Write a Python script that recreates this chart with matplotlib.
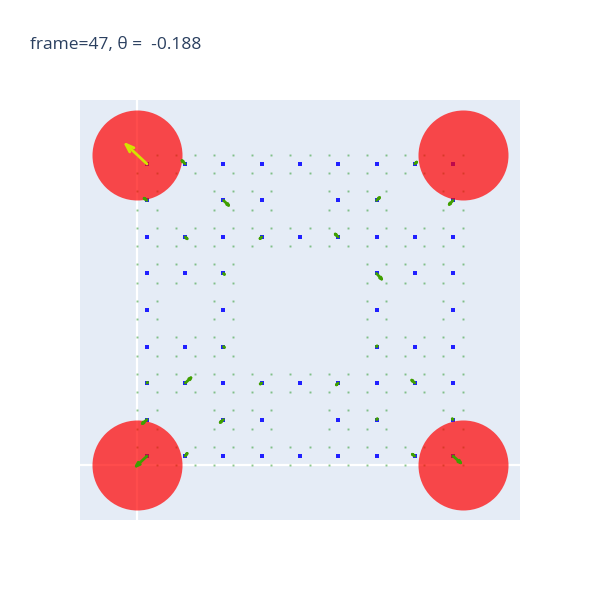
import numpy as np
import matplotlib.pyplot as plt

# Tapete de Sierpinski 9x9 (linhas de cima para baixo)
carpet = [
    "111111111",
    "101101101",
    "111111111",
    "111000111",
    "101000101",
    "111000111",
    "111111111",
    "101101101",
    "111111111",
]

# Posicoes dos circulos vermelhos (cantos)
corner_x = [0, 17, 0, 17]
corner_y = [0, 0, 17, 17]

# Setas (origem, componentes)
arrow_x = [0.5, 2.5, 14.5, 0.5, 4.5, 12.5, 16.5, 2.5, 6.5, 10.5, 4.5, 12.5, 4.5,
           12.5, 0.5, 2.5, 6.5, 10.5, 14.5, 0.5, 4.5, 12.5, 16.5, 0.5, 2.5, 14.5, 16.5]
arrow_y = [16.5, 16.5, 16.5, 14.5, 14.5, 14.5, 14.5, 12.5, 12.5, 12.5, 10.5, 10.5, 6.5,
           6.5, 4.5, 4.5, 4.5, 4.5, 4.5, 2.5, 2.5, 2.5, 2.5, 0.5, 0.5, 0.5, 0.5]
arrow_u = [-1.1, -0.17, 0.1, -0.15, 0.27, 0.16, -0.2, 0.1, -0.09, -0.16, 0.05, 0.27, 0.05,
           0.03, 0.03, 0.3, -0.08, -0.1, -0.16, -0.24, -0.17, 0.04, -0.04, -0.56, 0.1, -0.13, 0.4]
arrow_v = [1.07, 0.18, 0.1, 0.12, -0.27, 0.16, -0.22, -0.1, -0.09, 0.16, -0.05, -0.31, -0.05,
           0.03, 0.03, 0.29, -0.05, -0.1, 0.16, -0.22, -0.16, 0.04, 0.04, -0.55, 0.15, 0.1, -0.37]
arrow_c = ['#d4e200'] + ['#3f9f00'] * 26

title = "frame=47, θ =  -0.188"

# Pontos: centros (azul) e cantos (verde) de cada quadrado presente
cx, cy, sx, sy = [], [], [], []
for j, row in enumerate(carpet):
    for i, ch in enumerate(row):
        if ch == "1":
            cx.append(2 * i + 0.5)
            cy.append(16.5 - 2 * j)
            for di in (0, 1):
                for dj in (0, 1):
                    sx.append(2 * i + di)
                    sy.append(16 - 2 * j + dj)

fig = plt.figure(figsize=(6, 6), dpi=100)
ax = fig.add_axes([80 / 600, 80 / 600, 440 / 600, 420 / 600])
ax.set_facecolor('#E5ECF6')
ax.set_xlim(-3, 20)
ax.set_ylim(-3, 20)
ax.set_xticks([])
ax.set_yticks([])
for s in ax.spines.values():
    s.set_visible(False)

# linhas de zero
ax.axvline(0, color='white', lw=1.6, zorder=0.5)
ax.axhline(0, color='white', lw=1.6, zorder=0.5)

ax.plot(sx, sy, 's', ms=1.4, mew=0, color='#2e9a2e', alpha=0.55, zorder=1)
ax.plot(cx, cy, 's', ms=2.5, mew=0, color='#2020ff', zorder=2)

ax.scatter(corner_x, corner_y, s=4200, color='red', alpha=0.7, linewidths=0, zorder=3)

# setas estilo quiver com duas farpas
for x, y, u, v, c in zip(arrow_x, arrow_y, arrow_u, arrow_v, arrow_c):
    tx, ty = x + u, y + v
    ang = np.arctan2(v, u)
    L = 0.3 * np.hypot(u, v)
    b1 = (tx - L * np.cos(ang + np.pi / 9), ty - L * np.sin(ang + np.pi / 9))
    b2 = (tx - L * np.cos(ang - np.pi / 9), ty - L * np.sin(ang - np.pi / 9))
    ax.plot([x, tx], [y, ty], color=c, lw=2, solid_capstyle='round', zorder=4)
    ax.plot([b1[0], tx, b2[0]], [b1[1], ty, b2[1]], color=c, lw=2,
            solid_capstyle='round', solid_joinstyle='round', zorder=4)

fig.text(30 / 600, 1 - 45 / 600, title, fontsize=12.5, family=['Open Sans', 'DejaVu Sans'],
         color='#2a3f5f', va='center', ha='left')

fig.savefig('out.png', dpi=100)
